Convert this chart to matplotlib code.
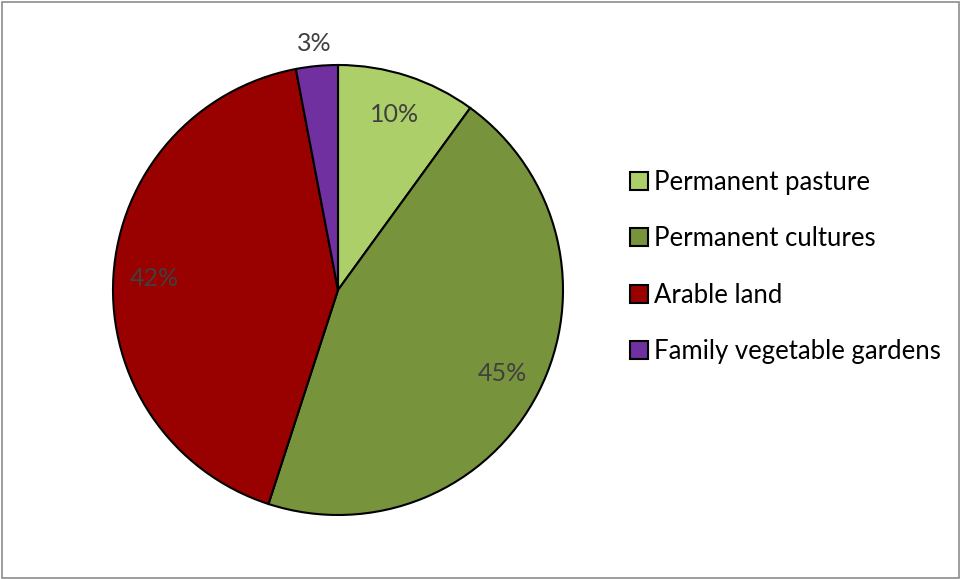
import matplotlib.pyplot as plt
import numpy as np
from matplotlib.patches import Rectangle

categories = ["Permanent pasture", "Permanent cultures", "Arable land", "Family vegetable gardens"]
shares = [10, 45, 42, 3]
colors = ["#ADCF6A", "#77933C", "#990000", "#7030A0"]

plt.rcParams['font.family'] = ['Lato', 'DejaVu Sans']

fig = plt.figure(figsize=(9.6, 5.79), dpi=100)
W, H = 960, 579
cx, cy, r = 338, 290, 225
ax = fig.add_axes([(cx - r) / W, (H - cy - r) / H, 2 * r / W, 2 * r / H])

wedges, _ = ax.pie(shares, colors=colors, startangle=90, counterclock=False,
                   wedgeprops=dict(edgecolor="black", linewidth=1.5))
ax.set_aspect("equal")
ax.set_xlim(-1, 1)
ax.set_ylim(-1, 1)

# percentage labels
for w, v in zip(wedges, shares):
    mid = np.deg2rad((w.theta1 + w.theta2) / 2)
    d = 1.1 if v < 5 else 0.82
    ax.text(d * np.cos(mid), d * np.sin(mid), f"{v}%", ha="center", va="center",
            fontsize=18, color="#404040")

# legend
handles = [Rectangle((0, 0), 1, 1, facecolor=c, edgecolor="black", linewidth=1.5) for c in colors]
fig.legend(handles, categories, loc="center left", bbox_to_anchor=(617 / W, 1 - 267 / H),
           frameon=False, fontsize=18.5, handlelength=0.7, handleheight=0.7,
           handletextpad=0.25, labelspacing=1.22, borderpad=0)

# chart border
fig.patches.append(Rectangle((1.5 / W, 1.5 / H), 1 - 3 / W, 1 - 3 / H, transform=fig.transFigure,
                             fill=False, edgecolor="#8c8c8c", linewidth=1.2))

fig.savefig("out.png", dpi=100)
